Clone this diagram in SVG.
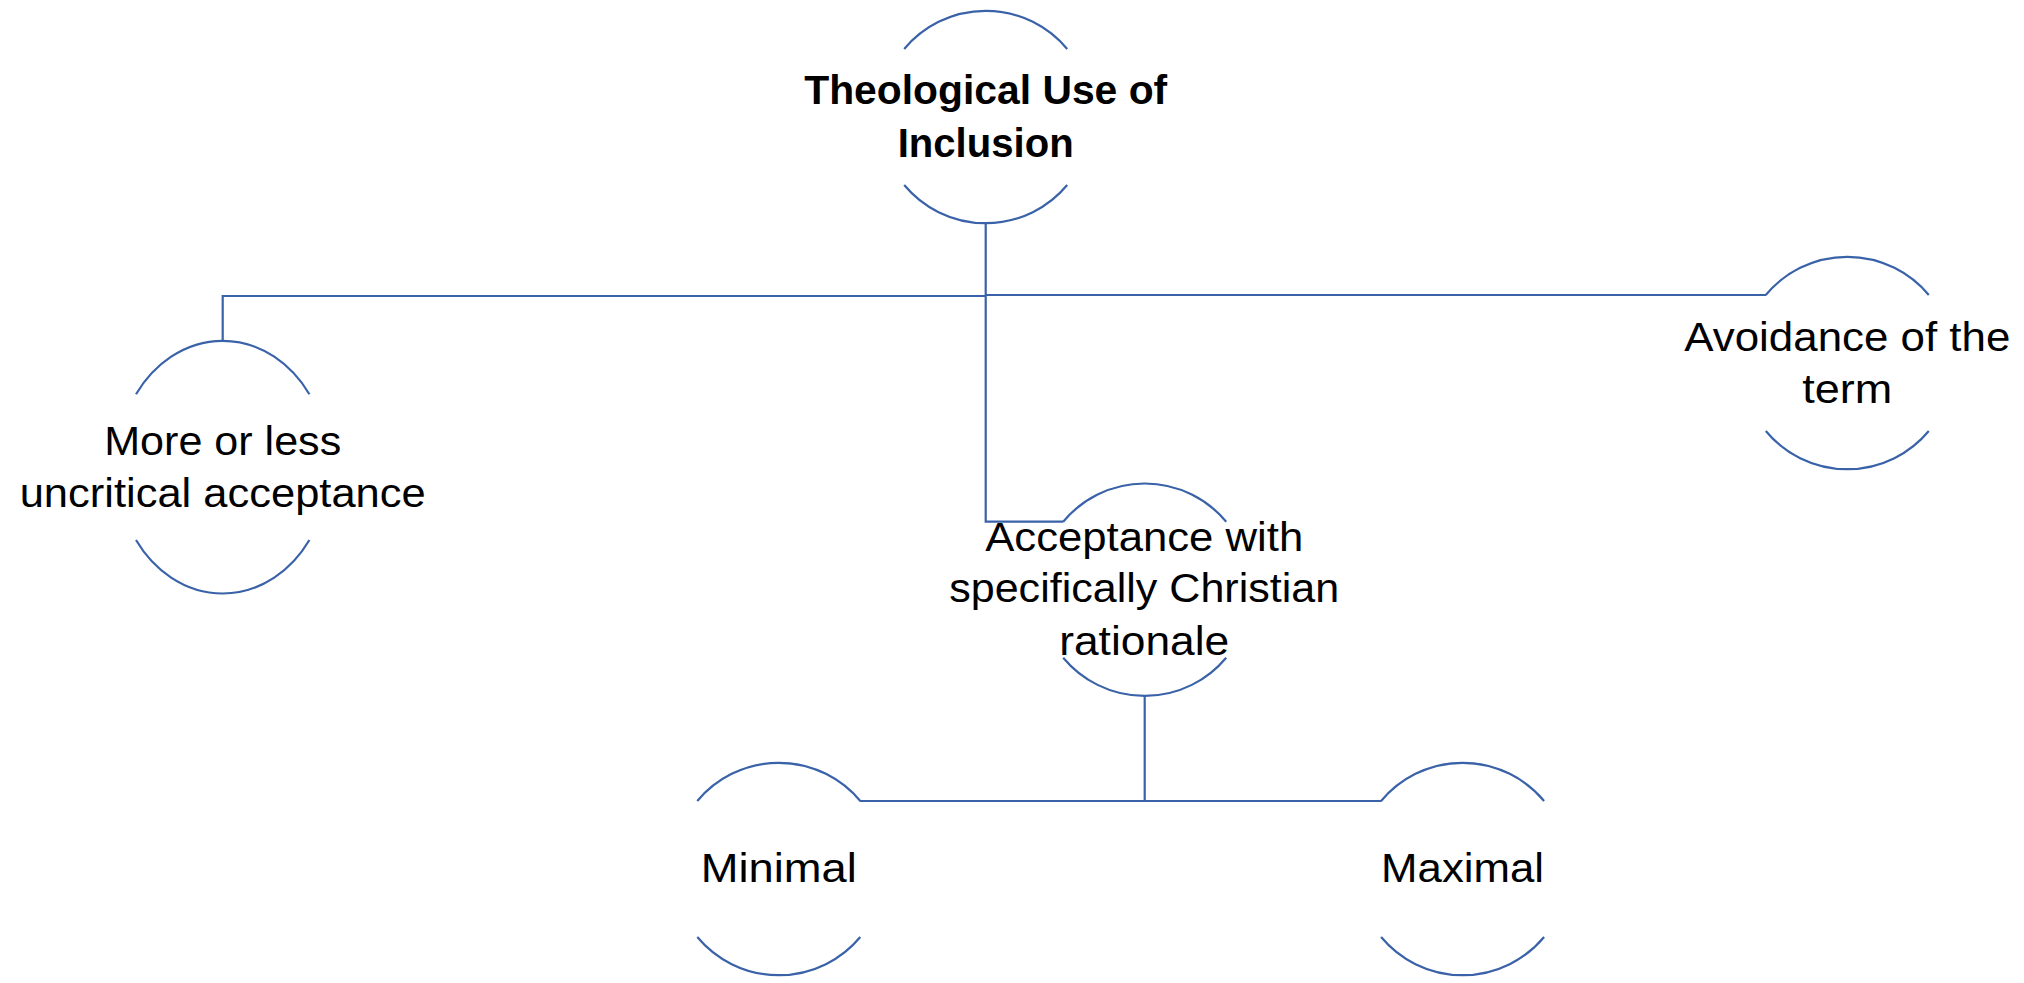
<svg xmlns="http://www.w3.org/2000/svg" width="2024" height="983" viewBox="0 0 2024 983">
<style>
.arc{fill:none;stroke:#3A62A8;stroke-width:2.2}
.con{fill:none;stroke:#3A62A8;stroke-width:2.2}
.t{font-family:"Liberation Sans",Arial,sans-serif;font-size:41px;fill:#000;text-anchor:middle}
.b{font-weight:bold}
</style>
<rect width="2024" height="983" fill="#fff"/>
<g id="connectors">
<path class="con" d="M985.7 223 V296 M985.7 296 H222.7 V341 M985.7 295 H1766 M985.7 296 V521.7 H1063.3 M1144.7 696 V801 M859.8 801 H1381.6"/>
</g>
<g id="node-root">
<path class="arc" d="M904.2 49 A106 106 0 0 1 1067.2 49 M904.2 185 A106 106 0 0 0 1067.2 185"/>
<text class="t b" x="985.7" y="104.3" textLength="363" lengthAdjust="spacingAndGlyphs">Theological Use of</text>
<text class="t b" x="985.7" y="156.7" textLength="176" lengthAdjust="spacingAndGlyphs">Inclusion</text>
</g>
<g id="node-uncritical">
<path class="arc" d="M136 394.3 A106 126 0 0 1 309.4 394.3 M136 540 A106 126 0 0 0 309.4 540"/>
<text class="t" x="222.7" y="455" textLength="237" lengthAdjust="spacingAndGlyphs">More or less</text>
<text class="t" x="222.7" y="506.7" textLength="406" lengthAdjust="spacingAndGlyphs">uncritical acceptance</text>
</g>
<g id="node-avoidance">
<path class="arc" d="M1765.8 295 A106 106 0 0 1 1928.8 295 M1765.8 431 A106 106 0 0 0 1928.8 431"/>
<text class="t" x="1847.3" y="351" textLength="326" lengthAdjust="spacingAndGlyphs">Avoidance of the</text>
<text class="t" x="1847.3" y="403.3" textLength="90" lengthAdjust="spacingAndGlyphs">term</text>
</g>
<g id="node-christian">
<path class="arc" d="M1063.2 521.7 A106 106 0 0 1 1226.2 521.7 M1063.2 657.7 A106 106 0 0 0 1226.2 657.7"/>
<text class="t" x="1144.2" y="551" textLength="318" lengthAdjust="spacingAndGlyphs">Acceptance with</text>
<text class="t" x="1144.2" y="601.7" textLength="390" lengthAdjust="spacingAndGlyphs">specifically Christian</text>
<text class="t" x="1144.2" y="655" textLength="170" lengthAdjust="spacingAndGlyphs">rationale</text>
</g>
<g id="node-minimal">
<path class="arc" d="M697.3 801 A106 106 0 0 1 860.3 801 M697.3 937 A106 106 0 0 0 860.3 937"/>
<text class="t" x="778.8" y="881.7" textLength="156" lengthAdjust="spacingAndGlyphs">Minimal</text>
</g>
<g id="node-maximal">
<path class="arc" d="M1381.1 801 A106 106 0 0 1 1544.1 801 M1381.1 937 A106 106 0 0 0 1544.1 937"/>
<text class="t" x="1462.6" y="881.7" textLength="163" lengthAdjust="spacingAndGlyphs">Maximal</text>
</g>
</svg>
